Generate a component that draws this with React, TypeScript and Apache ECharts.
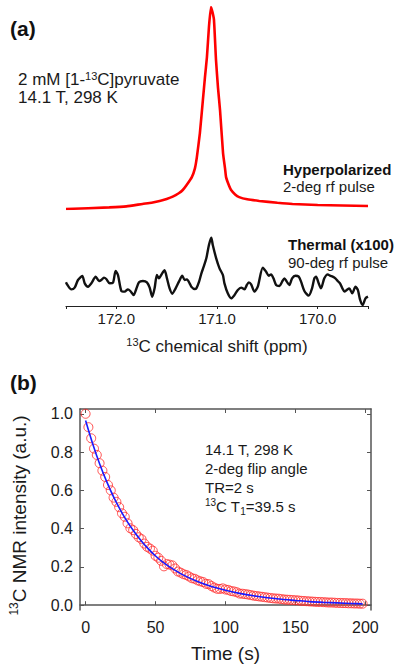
import React, { useEffect, useRef } from 'react';
import * as echarts from 'echarts';

const FONT = 'Arial, "Liberation Sans", Helvetica, sans-serif';

// Panel (a): hyperpolarized spectrum (normalized intensity)
const hpShift = [
  172.5, 172.07, 171.9, 171.74, 171.65, 171.57, 171.5, 171.44, 171.38, 171.34,
  171.3, 171.25, 171.22, 171.2, 171.17, 171.14, 171.12, 171.1, 171.08, 171.06,
  171.045, 171.03, 171.01, 170.99, 170.97, 170.94, 170.92, 170.91, 170.88, 170.86,
  170.82, 170.78, 170.7, 170.58, 170.4, 170.25, 170.0, 169.5,
];
const hpIntensity = [
  0, 0.008, 0.013, 0.025, 0.031, 0.04, 0.05, 0.061, 0.078, 0.094,
  0.12, 0.158, 0.2, 0.257, 0.376, 0.54, 0.65, 0.752, 0.901, 1.0,
  0.975, 0.936, 0.738, 0.6, 0.49, 0.277, 0.2, 0.158, 0.115, 0.094,
  0.072, 0.059, 0.048, 0.04, 0.031, 0.025, 0.02, 0.015,
];

// Panel (a): thermal spectrum (x100, normalized)
const thermalShift = [
  172.5, 172.49, 172.447, 172.414, 172.381, 172.338, 172.314, 172.281, 172.248, 172.205,
  172.172, 172.149, 172.123, 172.1, 172.066, 172.033, 172.007, 171.984, 171.95, 171.917,
  171.885, 171.861, 171.828, 171.802, 171.775, 171.736, 171.696, 171.669, 171.643, 171.62,
  171.597, 171.577, 171.554, 171.521, 171.497, 171.471, 171.444, 171.411, 171.378, 171.345,
  171.321, 171.298, 171.272, 171.255, 171.222, 171.205, 171.178, 171.155, 171.132, 171.106,
  171.08, 171.057,
  171.042, 171.008, 170.975, 170.942, 170.926, 170.893, 170.859, 170.826, 170.793, 170.76,
  170.727, 170.704, 170.684, 170.661, 170.628, 170.595, 170.545, 170.512, 170.486, 170.463,
  170.439, 170.413, 170.38, 170.353, 170.33, 170.307, 170.281, 170.254, 170.221, 170.188,
  170.165, 170.132, 170.089, 170.056, 170.033, 170.016, 169.99, 169.967, 169.934, 169.9,
  169.877, 169.851, 169.824, 169.801, 169.778, 169.751, 169.734, 169.711, 169.686, 169.657,
  169.624, 169.601, 169.578, 169.553, 169.525, 169.5,
];
const thermalIntensity = [
  0.338, 0.31, 0.238, 0.262, 0.371, 0.429, 0.324, 0.276, 0.324, 0.419,
  0.357, 0.371, 0.405, 0.386, 0.324, 0.333, 0.5, 0.443, 0.214, 0.205,
  0.238, 0.214, 0.157, 0.243, 0.338, 0.357, 0.338, 0.262, 0.133, 0.252,
  0.443, 0.395, 0.443, 0.51, 0.395, 0.252, 0.176, 0.252, 0.348, 0.433,
  0.371, 0.381, 0.324, 0.276, 0.243, 0.252, 0.348, 0.467, 0.562, 0.681,
  0.871, 0.976,
  0.871, 0.681, 0.538, 0.443, 0.324, 0.181, 0.11, 0.157, 0.229, 0.262,
  0.238, 0.3, 0.338, 0.31, 0.205, 0.276, 0.548, 0.49, 0.433, 0.452,
  0.395, 0.3, 0.286, 0.348, 0.395, 0.348, 0.3, 0.395, 0.433, 0.419,
  0.348, 0.214, 0.148, 0.252, 0.395, 0.419, 0.324, 0.252, 0.395, 0.452,
  0.433, 0.419, 0.395, 0.357, 0.324, 0.243, 0.205, 0.229, 0.252, 0.181,
  0.276, 0.229, 0.086, 0.014, 0.11, 0.133,
];
const shiftLabels = [172.0, 171.0, 170.0];

// Panel (b): decay data
const timeS = [
  0, 2, 4, 6, 8, 10, 12, 14, 16, 18, 20, 22, 24, 26, 28, 30, 32, 34, 36, 38,
  40, 42, 44, 46, 48, 50, 52, 54, 56, 58, 60, 62, 64, 66, 68, 70, 72, 74, 76, 78,
  80, 82, 84, 86, 88, 90, 92, 94, 96, 98, 100, 102, 104, 106, 108, 110, 112, 114, 116, 118,
  120, 122, 124, 126, 128, 130, 132, 134, 136, 138, 140, 142, 144, 146, 148, 150, 152, 154, 156, 158,
  160, 162, 164, 166, 168, 170, 172, 174, 176, 178, 180, 182, 184, 186, 188, 190, 192, 194, 196, 198,
];
const nmrIntensity = [
  1.0, 0.93, 0.872, 0.818, 0.785, 0.742, 0.703, 0.67, 0.628, 0.6,
  0.562, 0.54, 0.512, 0.48, 0.462, 0.428, 0.402, 0.392, 0.372, 0.355,
  0.345, 0.322, 0.305, 0.296, 0.285, 0.258, 0.248, 0.232, 0.203, 0.215,
  0.212, 0.208, 0.192, 0.176, 0.17, 0.162, 0.158, 0.15, 0.141, 0.138,
  0.13, 0.125, 0.121, 0.112, 0.11, 0.1, 0.092, 0.086, 0.085, 0.088,
  0.082, 0.08, 0.074, 0.072, 0.068, 0.061, 0.06, 0.058, 0.056, 0.053,
  0.05, 0.048, 0.046, 0.044, 0.042, 0.04, 0.038, 0.036, 0.035, 0.034,
  0.032, 0.03, 0.029, 0.028, 0.027, 0.026, 0.025, 0.023, 0.022, 0.021,
  0.02, 0.019, 0.018, 0.017, 0.017, 0.016, 0.015, 0.014, 0.014, 0.013,
  0.012, 0.012, 0.011, 0.011, 0.01, 0.01, 0.009, 0.009, 0.008, 0.008,
];
const fitTime = [0, 5, 10, 15, 20, 25, 30, 35, 40, 45, 50, 55, 60, 70, 80, 90, 100, 110, 120, 130, 140, 150, 160, 170, 180, 190, 198];
const fitIntensity = [0.965, 0.845, 0.739, 0.647, 0.566, 0.496, 0.434, 0.381, 0.334, 0.293, 0.257, 0.226, 0.2, 0.157, 0.124, 0.098, 0.078, 0.062, 0.049, 0.039, 0.031, 0.025, 0.019, 0.015, 0.012, 0.009, 0.007];
const timeTicks = [0, 50, 100, 150, 200];
const intensityTicks = [0, 0.2, 0.4, 0.6, 0.8, 1.0];

const zip = (a: number[], b: number[]) => a.map((v, i) => [v, b[i]]);

export default function App() {
  const ref = useRef<HTMLDivElement>(null);
  useEffect(() => {
    if (!ref.current) return;
    const chart = echarts.init(ref.current, undefined, { renderer: 'svg' });
    const txt = '#1a1a1a';
    const frame = '#555';
    const option: any = {
      animation: false,
      textStyle: { fontFamily: FONT },
      grid: [
        { left: 66, top: 7, width: 302, height: 202 },
        { left: 66, top: 236, width: 302, height: 70 },
        { left: 74, top: 409, width: 297, height: 201 },
      ],
      xAxis: [
        { gridIndex: 0, type: 'value', min: 169.5, max: 172.5, inverse: true, show: false },
        {
          gridIndex: 1, type: 'value', min: 169.5, max: 172.5, interval: 0.5, inverse: true,
          axisLine: { show: true, lineStyle: { color: '#222', width: 1.2 } },
          axisTick: { show: true, inside: false, length: 3, lineStyle: { color: '#222' } },
          axisLabel: {
            margin: 5, fontSize: 15, color: txt, fontFamily: FONT,
            formatter: (v: number) => (shiftLabels.some((s) => Math.abs(s - v) < 1e-6) ? v.toFixed(1) : ''),
          },
          splitLine: { show: false },
          name: '{s|13}{n|C chemical shift (ppm)}',
          nameLocation: 'middle',
          nameGap: 30,
          nameTextStyle: {
            color: txt, fontFamily: FONT,
            rich: {
              s: { fontSize: 11, verticalAlign: 'top', lineHeight: 20, fontFamily: FONT, color: txt },
              n: { fontSize: 17, lineHeight: 20, fontFamily: FONT, color: txt },
            },
          },
        },
        {
          gridIndex: 2, type: 'value', min: -4, max: 204, position: 'bottom',
          axisLine: { show: true, lineStyle: { color: frame, width: 1.5 } },
          axisTick: { show: true, inside: true, length: 4, customValues: timeTicks, lineStyle: { color: frame } },
          axisLabel: { margin: 9, fontSize: 16, color: txt, fontFamily: FONT, customValues: timeTicks },
          splitLine: { show: false },
          name: 'Time (s)',
          nameLocation: 'middle',
          nameGap: 32,
          nameTextStyle: { fontSize: 19, lineHeight: 22, color: txt, fontFamily: FONT },
        },
        {
          gridIndex: 2, type: 'value', min: -4, max: 204, position: 'top',
          axisLine: { show: true, onZero: false, lineStyle: { color: frame, width: 1.5 } },
          axisTick: { show: true, inside: true, length: 4, customValues: timeTicks, lineStyle: { color: frame } },
          axisLabel: { show: false },
          splitLine: { show: false },
        },
      ],
      yAxis: [
        { gridIndex: 0, type: 'value', min: 0, max: 1, show: false },
        { gridIndex: 1, type: 'value', min: 0, max: 1, show: false },
        {
          gridIndex: 2, type: 'value', min: -0.025, max: 1.025, position: 'left',
          axisLine: { show: true, onZero: false, lineStyle: { color: frame, width: 1.5 } },
          axisTick: { show: true, inside: true, length: 4, customValues: intensityTicks, lineStyle: { color: frame } },
          axisLabel: {
            margin: 7, fontSize: 16, color: txt, fontFamily: FONT, customValues: intensityTicks,
            formatter: (v: number) => v.toFixed(1),
          },
          splitLine: { show: false },
          name: '{s|13}{n|C NMR intensity (a.u.)}',
          nameLocation: 'middle',
          nameGap: 50,
          nameTextStyle: {
            color: txt, fontFamily: FONT, padding: [0, 0, 0, -12],
            rich: {
              s: { fontSize: 12, verticalAlign: 'top', lineHeight: 22, fontFamily: FONT, color: txt },
              n: { fontSize: 19, lineHeight: 22, fontFamily: FONT, color: txt },
            },
          },
        },
        {
          gridIndex: 2, type: 'value', min: -0.025, max: 1.025, position: 'right',
          axisLine: { show: true, onZero: false, lineStyle: { color: frame, width: 1.5 } },
          axisTick: { show: true, inside: true, length: 4, customValues: intensityTicks, lineStyle: { color: frame } },
          axisLabel: { show: false },
          splitLine: { show: false },
        },
      ],
      series: [
        {
          type: 'line', xAxisIndex: 0, yAxisIndex: 0, data: zip(hpShift, hpIntensity),
          showSymbol: false, smooth: 0.15,
          lineStyle: { color: '#ff0000', width: 2.6 },
        },
        {
          type: 'line', xAxisIndex: 1, yAxisIndex: 1, data: zip(thermalShift, thermalIntensity),
          showSymbol: false, smooth: 0.25,
          lineStyle: { color: '#111', width: 2.4 },
        },
        {
          type: 'scatter', xAxisIndex: 2, yAxisIndex: 2, data: zip(timeS, nmrIntensity),
          symbol: 'circle', symbolSize: 9,
          itemStyle: { color: 'rgba(0,0,0,0)', borderColor: '#ff2a2a', borderWidth: 1 },
          z: 2,
        },
        {
          type: 'line', xAxisIndex: 2, yAxisIndex: 2, data: zip(fitTime, fitIntensity),
          showSymbol: false, smooth: 0.3,
          lineStyle: { color: '#1a1aff', width: 1.6 },
          z: 3,
        },
      ],
      graphic: [
        { type: 'text', left: 10, top: 18, style: { text: '(a)', font: `bold 21px ${FONT}`, fill: '#111' } },
        { type: 'text', left: 10, top: 372, style: { text: '(b)', font: `bold 21px ${FONT}`, fill: '#111' } },
        {
          type: 'text', x: 18, y: 70, style: {
            text: '{n|2 mM [1-}{s|13}{n|C]pyruvate}\n{n|14.1 T, 298 K}',
            align: 'left', verticalAlign: 'top',
            rich: {
              n: { fontSize: 17, lineHeight: 18, fontFamily: FONT, fill: txt },
              s: { fontSize: 11, lineHeight: 18, verticalAlign: 'top', fontFamily: FONT, fill: txt },
            },
          },
        },
        {
          type: 'text', x: 283, y: 161, style: {
            text: '{b|Hyperpolarized}\n{n|2-deg rf pulse}',
            align: 'left', verticalAlign: 'top',
            rich: {
              b: { fontSize: 15, fontWeight: 'bold', lineHeight: 17, fontFamily: FONT, fill: '#111' },
              n: { fontSize: 15, lineHeight: 17, fontFamily: FONT, fill: txt },
            },
          },
        },
        {
          type: 'text', x: 288, y: 235, style: {
            text: '{b|Thermal (x100)}\n{n|90-deg rf pulse}',
            align: 'left', verticalAlign: 'top',
            rich: {
              b: { fontSize: 15, fontWeight: 'bold', lineHeight: 18, fontFamily: FONT, fill: '#111' },
              n: { fontSize: 15, lineHeight: 18, fontFamily: FONT, fill: txt },
            },
          },
        },
        {
          type: 'text', x: 205, y: 440, style: {
            text: '{n|14.1 T, 298 K}\n{n|2-deg flip angle}\n{n|TR=2 s}\n{s|13}{n|C T}{u|1}{n|=39.5 s}',
            align: 'left', verticalAlign: 'top',
            rich: {
              n: { fontSize: 15, lineHeight: 19, fontFamily: FONT, fill: txt },
              s: { fontSize: 10, lineHeight: 19, verticalAlign: 'top', fontFamily: FONT, fill: txt },
              u: { fontSize: 10, lineHeight: 19, verticalAlign: 'bottom', fontFamily: FONT, fill: txt },
            },
          },
        },
      ],
    };
    chart.setOption(option);
    return () => chart.dispose();
  }, []);
  return <div ref={ref} style={{ position: 'absolute', left: 0, top: 0, width: 400, height: 670 }} />;
}
